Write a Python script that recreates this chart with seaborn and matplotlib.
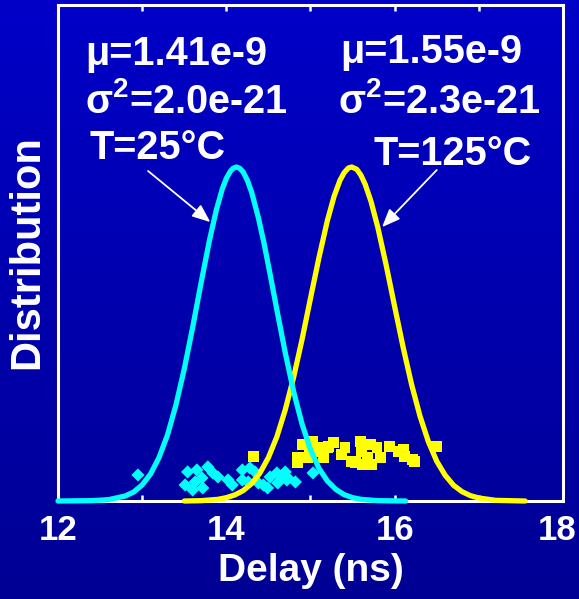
import numpy as np
import pandas as pd
import matplotlib
matplotlib.use("Agg")
import matplotlib.pyplot as plt
import matplotlib.transforms as mtransforms
import seaborn as sns

# ---------------- data ----------------
cyan_curve_x = [12.0, 12.4, 12.6, 12.8, 12.9, 13.0, 13.1, 13.2, 13.3, 13.4, 13.5, 13.6,
                13.7, 13.8, 13.88, 13.95, 14.0, 14.05, 14.08, 14.12, 14.16, 14.2, 14.25,
                14.3, 14.38, 14.45, 14.52, 14.6, 14.7, 14.8, 14.9, 15.0, 15.1, 15.2,
                15.3, 15.4, 15.5, 15.6, 15.8, 16.13]
cyan_curve_y = [0.000, 0.001, 0.004, 0.015, 0.027, 0.048, 0.081, 0.130, 0.197, 0.286, 0.395,
                0.520, 0.653, 0.781, 0.870, 0.933, 0.966, 0.988, 0.996, 1.000, 0.996, 0.985,
                0.960, 0.925, 0.849, 0.769, 0.679, 0.573, 0.444, 0.327, 0.230, 0.154, 0.098,
                0.060, 0.035, 0.019, 0.010, 0.005, 0.001, 0.000]

yellow_curve_x = [13.5, 13.7, 13.9, 14.0, 14.1, 14.2, 14.3, 14.4, 14.5, 14.6, 14.7, 14.8,
                  14.9, 15.0, 15.1, 15.2, 15.28, 15.35, 15.4, 15.45, 15.49, 15.55, 15.6,
                  15.65, 15.72, 15.8, 15.9, 16.0, 16.1, 16.2, 16.3, 16.4, 16.5, 16.6,
                  16.7, 16.8, 16.9, 17.0, 17.2, 17.55]
yellow_curve_y = [0.000, 0.001, 0.005, 0.010, 0.018, 0.031, 0.052, 0.084, 0.130, 0.192,
                  0.273, 0.371, 0.484, 0.607, 0.728, 0.839, 0.912, 0.960, 0.983, 0.997,
                  1.000, 0.993, 0.975, 0.948, 0.896, 0.819, 0.705, 0.582, 0.461, 0.350,
                  0.255, 0.178, 0.119, 0.077, 0.047, 0.028, 0.016, 0.009, 0.002, 0.000]

cyan_pts_x = [12.95, 13.54, 13.65, 13.78, 13.84, 13.71, 13.63, 13.51, 13.60, 13.72,
              13.90, 14.02, 14.07, 14.19, 14.28, 14.34, 14.19, 14.26, 14.38, 14.44,
              14.52, 14.60, 14.67, 14.61, 14.73, 14.82, 14.49, 14.70, 15.03, 14.72]
cyan_pts_y = [0.078, 0.087, 0.093, 0.102, 0.084, 0.069, 0.057, 0.048, 0.033, 0.039,
              0.072, 0.063, 0.048, 0.093, 0.099, 0.087, 0.063, 0.057, 0.054, 0.048,
              0.072, 0.084, 0.072, 0.054, 0.069, 0.057, 0.039, 0.087, 0.084, 0.063]

yellow_pts_x = [14.32, 14.84, 14.91, 15.03, 15.20, 14.96, 14.84, 14.99, 15.09, 15.21,
                15.15, 15.27, 15.37, 15.41, 15.49, 15.59, 15.61, 15.68, 15.71, 15.79,
                15.83, 15.73, 15.62, 15.53, 15.94, 16.04, 16.12, 16.21, 16.50, 16.24,
                16.10, 15.11]
yellow_pts_y = [0.132, 0.114, 0.168, 0.177, 0.159, 0.129, 0.129, 0.144, 0.159, 0.162,
                0.129, 0.174, 0.138, 0.159, 0.117, 0.177, 0.147, 0.129, 0.168, 0.159,
                0.129, 0.108, 0.108, 0.114, 0.162, 0.147, 0.132, 0.123, 0.162, 0.117,
                0.153, 0.147]

x_major = [12, 14, 16, 18]
x_minor = [13, 15, 17]
x_labels = ["12", "14", "16", "18"]

left_text = ["μ=1.41e-9", r"σ$^{2}$=2.0e-21", "T=25°C"]
right_text = ["μ=1.55e-9", r"σ$^{2}$=2.3e-21", "T=125°C"]

# ---------------- style ----------------
plt.rcParams['font.family'] = ['Liberation Sans', 'DejaVu Sans']
plt.rcParams['font.weight'] = 'bold'
plt.rcParams['mathtext.fontset'] = 'custom'
plt.rcParams['mathtext.rm'] = 'Liberation Sans:bold'
plt.rcParams['mathtext.it'] = 'Liberation Sans:bold'
plt.rcParams['mathtext.bf'] = 'Liberation Sans:bold'
plt.rcParams['mathtext.default'] = 'rm'

W, H = 579, 599
fig = plt.figure(figsize=(W / 100, H / 100), dpi=100)

# gradient background
bg = fig.add_axes([0, 0, 1, 1], zorder=0)
top_c = np.array([0, 0, 200]) / 255
bot_c = np.array([0, 0, 148]) / 255
t = np.linspace(0, 1, 256)[:, None]
grad = (top_c[None, :] * (1 - t) + bot_c[None, :] * t)[:, None, :]
bg.imshow(grad, aspect='auto', extent=[0, 1, 0, 1], interpolation='bilinear')
bg.axis('off')

L, R, T, B = 58, 563, 5, 501
ax = fig.add_axes([L / W, 1 - B / H, (R - L) / W, (B - T) / H], zorder=1)
ax.set_facecolor('none')

cyan = '#00FFFF'
yellow = '#FFFF00'

sc_c = pd.DataFrame({'x': cyan_pts_x, 'y': cyan_pts_y})
sc_y = pd.DataFrame({'x': yellow_pts_x, 'y': yellow_pts_y})
sns.scatterplot(data=sc_c, x='x', y='y', ax=ax, marker='D', s=45, color=cyan,
                edgecolor='none', linewidth=0, zorder=2)
sns.scatterplot(data=sc_y, x='x', y='y', ax=ax, marker='s', s=62, color=yellow,
                edgecolor='none', linewidth=0, zorder=2)

cy = pd.DataFrame({'x': yellow_curve_x, 'y': yellow_curve_y})
cc = pd.DataFrame({'x': cyan_curve_x, 'y': cyan_curve_y})
sns.lineplot(data=cy, x='x', y='y', ax=ax, color=yellow, lw=3.8, estimator=None,
             sort=False, zorder=3, clip_on=False, solid_capstyle='round',
             solid_joinstyle='round')
sns.lineplot(data=cc, x='x', y='y', ax=ax, color=cyan, lw=3.8, estimator=None,
             sort=False, zorder=4, clip_on=False, solid_capstyle='round',
             solid_joinstyle='round')

ax.set_xlim(12, 18)
ax.set_ylim(0, 1.485)

for sp in ax.spines.values():
    sp.set_color('white')
    sp.set_linewidth(2.2)
    sp.set_zorder(2.5)

ax.set_xticks(x_major)
ax.set_xticklabels(x_labels)
ax.set_xticks(x_minor, minor=True)
ax.set_yticks([])
ax.tick_params(axis='x', which='both', direction='in', top=True, bottom=True,
               length=4.5, width=1.8, color='white')
ax.tick_params(axis='x', which='major', labelsize=25, labelcolor='white', pad=9)
xt_labels = ax.get_xticklabels()
for lab in xt_labels:
    lab.set_fontweight('bold')
# nudge the last label slightly left so it stays inside the figure
shift = mtransforms.ScaledTranslation(-4 / 72, 0, fig.dpi_scale_trans)
xt_labels[-1].set_transform(xt_labels[-1].get_transform() + shift)

ax.set_xlabel("Delay (ns)", fontsize=28, fontweight='bold', color='white')
ax.xaxis.set_label_coords(0.5, -0.105)
ax.set_ylabel("")
fig.text(27 / W, 1 - 252 / H, "Distribution", rotation=90, ha='center', va='center',
         fontsize=30, fontweight='bold', color='white')

# annotation texts
left_pos = [(85, 65), (85, 113), (90, 159)]
right_pos = [(340, 63), (338, 113), (373, 165)]
for s, (px, py) in zip(left_text, left_pos):
    fig.text(px / W, 1 - py / H, s, ha='left', va='baseline', fontsize=28.5,
             fontweight='bold', color='white', zorder=5)
for s, (px, py) in zip(right_text, right_pos):
    fig.text(px / W, 1 - py / H, s, ha='left', va='baseline', fontsize=28.5,
             fontweight='bold', color='white', zorder=5)

arrow = dict(arrowstyle='-|>,head_length=1.1,head_width=0.45', color='white',
             lw=1.3, shrinkA=0, shrinkB=0)
ax.annotate("", xy=(13.81, 0.835), xytext=(13.07, 0.988), arrowprops=arrow, zorder=5)
ax.annotate("", xy=(15.85, 0.820), xytext=(16.50, 0.991), arrowprops=arrow, zorder=5)

fig.savefig("out.png", dpi=100)
